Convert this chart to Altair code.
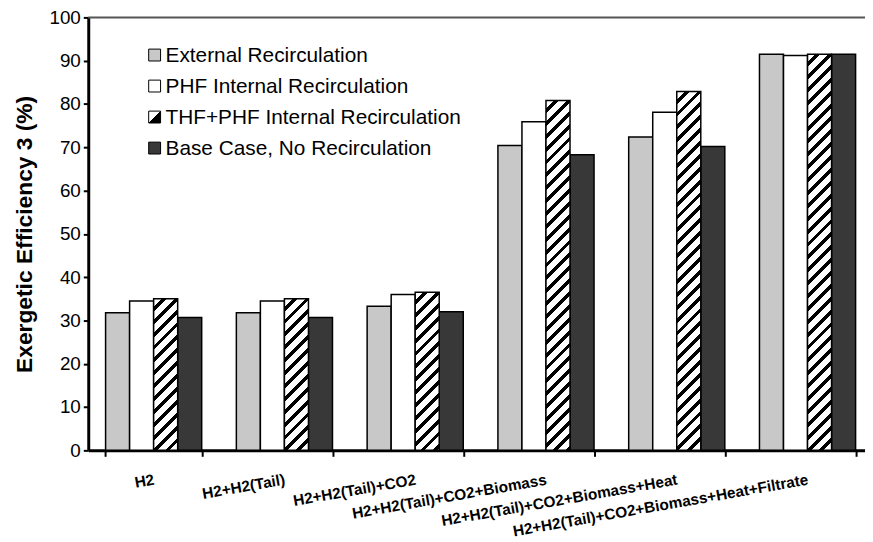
import altair as alt
import pandas as pd

categories = [
    "H2",
    "H2+H2(Tail)",
    "H2+H2(Tail)+CO2",
    "H2+H2(Tail)+CO2+Biomass",
    "H2+H2(Tail)+CO2+Biomass+Heat",
    "H2+H2(Tail)+CO2+Biomass+Heat+Filtrate",
]
series = [
    "External Recirculation",
    "PHF Internal Recirculation",
    "THF+PHF Internal Recirculation",
    "Base Case, No Recirculation",
]
external = [31.8, 31.8, 33.3, 70.4, 72.4, 91.5]
phf = [34.5, 34.5, 36.0, 75.9, 78.1, 91.2]
thf = [35.0, 35.0, 36.5, 80.8, 82.9, 91.5]
base = [30.7, 30.7, 32.0, 68.3, 70.2, 91.5]

y_title = "Exergetic Efficiency 3 (%)"
y_ticks = list(range(0, 101, 10))

# layout / style
FONT = "Liberation Sans"
PLOT_W = 784
RANGE_W = 792
PLOT_H = 437
P_INNER = 0.265
P_OUTER = 0.1325
STRIPE = 13.0
BLACK_FRAC = 0.38
fills = {series[0]: "#c8c8c8", series[1]: "#ffffff", series[3]: "#383838"}

rows = []
for vals, s in zip([external, phf, thf, base], series):
    for c, v in zip(categories, vals):
        rows.append({"category": c, "series": s, "value": v})
df = pd.DataFrame(rows)

x_enc = alt.X(
    "category:N",
    sort=categories,
    scale=alt.Scale(domain=categories, range=[0, RANGE_W],
                    paddingInner=P_INNER, paddingOuter=P_OUTER),
    axis=alt.Axis(
        title=None, labelAngle=350, labelAlign="right", labelBaseline="middle",
        labelPadding=23, labelFont=FONT, labelFontSize=15.5, labelFontWeight="bold",
        labelColor="black", labelLimit=500, labelOverlap=False, labelBound=False,
        tickBand="extent", tickSize=6, tickWidth=2, tickColor="black",
        domainColor="black", domainWidth=3,
    ),
)
xo_enc = alt.XOffset("series:N", sort=series, scale=alt.Scale(domain=series))
y_enc = alt.Y(
    "value:Q",
    scale=alt.Scale(domain=[0, 100], nice=False),
    axis=alt.Axis(
        title=y_title, values=y_ticks, grid=False, labelFont=FONT, labelFontSize=19,
        labelColor="black", labelPadding=3, tickSize=5, tickWidth=2, tickColor="black",
        domainColor="black", domainWidth=3, titleFont=FONT, titleFontSize=23,
        titleFontWeight="bold", titleColor="black", titlePadding=13,
    ),
)

step = RANGE_W / (len(categories) - P_INNER + 2 * P_OUTER)
bar_w = step * (1 - P_INNER) / len(series)


def hatch(w, h):
    total = w + h
    n = total / STRIPE
    s = total / (w * w + h * h)
    stops = []
    k = 0
    while k < n:
        a = min(k / n, 1.0)
        b = min((k + 1 - BLACK_FRAC) / n, 1.0)
        c = min((k + 1) / n, 1.0)
        stops += [
            {"offset": a, "color": "#ffffff"},
            {"offset": b, "color": "#ffffff"},
            {"offset": b, "color": "#000000"},
            {"offset": c, "color": "#000000"},
        ]
        k += 1
    return {"gradient": "linear", "x1": 0, "y1": 0, "x2": w * s, "y2": h * s, "stops": stops}


solid = alt.Chart(df[df["series"] != series[2]]).mark_bar(
    stroke="black", strokeWidth=1.5
).encode(
    x=x_enc, xOffset=xo_enc, y=y_enc,
    fill=alt.Fill("series:N", scale=alt.Scale(domain=list(fills.keys()), range=list(fills.values())), legend=None),
)

layers = [solid]
thf_df = df[df["series"] == series[2]]
for _, r in thf_df.iterrows():
    h = r["value"] / 100 * PLOT_H
    layers.append(
        alt.Chart(pd.DataFrame([r])).mark_bar(stroke="black", strokeWidth=1.5).encode(
            x=x_enc, xOffset=xo_enc, y=y_enc, fill=alt.value(hatch(bar_w, h))
        )
    )

# top frame line
layers.append(
    alt.Chart(pd.DataFrame({"a": [0]})).mark_rule(color="#555555", strokeWidth=2).encode(
        x=alt.value(0), x2=alt.value(RANGE_W + 10), y=alt.value(0)
    )
)

# legend
LEG_X = 61
LEG_Y0 = 38
LEG_DY = 31.3
LEG_S = 12
leg_fill = [
    fills[series[0]],
    fills[series[1]],
    {"gradient": "linear", "x1": 0, "y1": 0, "x2": 1, "y2": 1,
     "stops": [{"offset": 0, "color": "#ffffff"}, {"offset": 0.5, "color": "#ffffff"},
               {"offset": 0.5, "color": "#000000"}, {"offset": 1, "color": "#000000"}]},
    fills[series[3]],
]
for i, s in enumerate(series):
    yc = LEG_Y0 + i * LEG_DY
    ldf = pd.DataFrame({"series": [s]})
    layers.append(
        alt.Chart(ldf).mark_rect(stroke="black", strokeWidth=1).encode(
            x=alt.value(LEG_X), x2=alt.value(LEG_X + LEG_S),
            y=alt.value(yc - LEG_S / 2), y2=alt.value(yc + LEG_S / 2),
            fill=alt.value(leg_fill[i]),
        )
    )
    layers.append(
        alt.Chart(ldf).mark_text(align="left", baseline="middle", font=FONT, fontSize=21, color="black").encode(
            x=alt.value(LEG_X + 17), y=alt.value(yc + 1), text="series:N"
        )
    )

chart = alt.layer(*layers).properties(
    width=PLOT_W,
    height=PLOT_H,
    autosize=alt.AutoSizeParams(type="none"),
    padding={"left": 81, "top": 7, "right": 0, "bottom": 88},
    background="white",
).configure_view(stroke=None)

chart.save("out.html", embed_options={"renderer": "svg", "actions": False})
